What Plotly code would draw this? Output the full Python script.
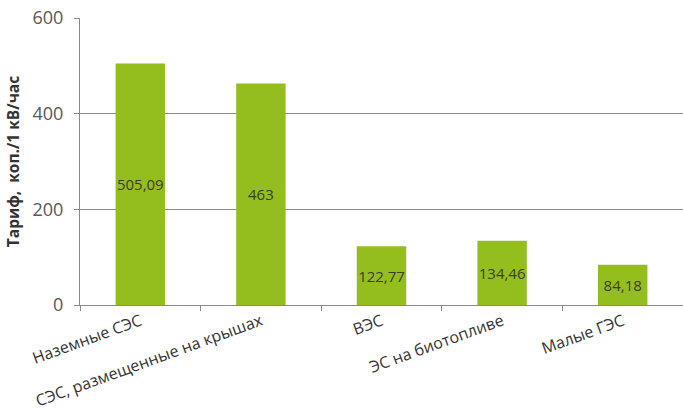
import plotly.graph_objects as go

categories = ["Наземные СЭС", "СЭС, размещенные на крышах", "ВЭС", "ЭС на биотопливе", "Малые ГЭС"]
values = [505.09, 463, 122.77, 134.46, 84.18]
labels = [("%g" % v).replace(".", ",") for v in values]
y_ticks = [0, 200, 400, 600]

fig = go.Figure()
fig.add_trace(go.Bar(
    x=categories, y=values, text=labels,
    textposition="inside", insidetextanchor="middle", constraintext="none",
    textangle=0,
    textfont=dict(family="Open Sans", size=15, color="#3d3d2a"),
    marker=dict(color="#93BE1E", line=dict(width=0)),
    width=0.41,
))
fig.update_layout(
    width=683, height=414,
    margin=dict(l=80, r=0, t=18, b=109),
    paper_bgcolor="white", plot_bgcolor="white",
    showlegend=False,
    font=dict(family="Open Sans", color="#404040"),
)
fig.update_xaxes(
    type="category", tickangle=-20, tickson="boundaries",
    ticks="outside", ticklen=5, tickcolor="#8a8a8a",
    showline=True, linecolor="#8a8a8a", linewidth=1,
    showgrid=False, automargin=False,
    tickfont=dict(family="Open Sans", size=16, color="#333333"),
)
fig.update_yaxes(
    range=[0, 600], tickvals=y_ticks,
    ticks="outside", ticklen=5, tickcolor="#8a8a8a",
    showline=True, linecolor="#8a8a8a", linewidth=1,
    showgrid=True, gridcolor="#8a8a8a", gridwidth=1,
    zeroline=False, automargin=False,
    ticklabelstandoff=7,
    tickfont=dict(family="Open Sans", size=18, color="#595959"),
    title=dict(text="<b>Тариф,  коп./1 кВ/час</b>", standoff=9,
               font=dict(family="Open Sans", size=15.5, color="#333333")),
)
fig.write_html("out.html", config={"displayModeBar": False},
               post_script="document.body.style.margin='0px';")
